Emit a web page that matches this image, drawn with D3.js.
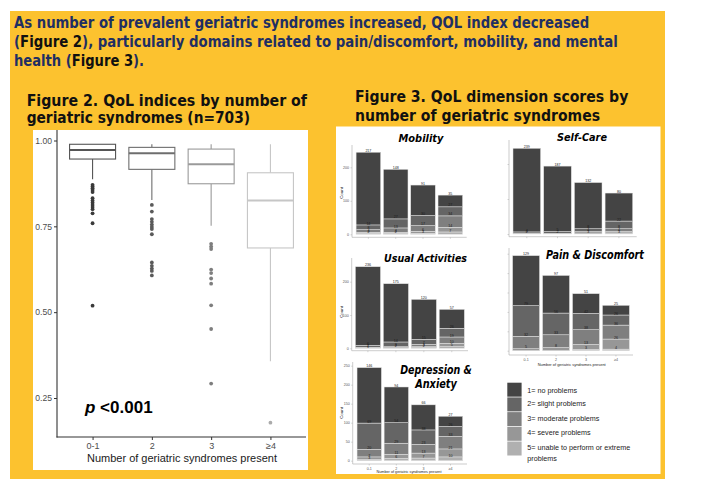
<!DOCTYPE html>
<html><head><meta charset="utf-8">
<script src="https://cdn.jsdelivr.net/npm/d3@7"></script>
<style>body{margin:0;background:#fff}svg{display:block}</style>
</head><body>
<svg id="c" width="712" height="492"></svg>
<script>
// ---------- DATA ----------
const headerLine1 = "As number of prevalent geriatric syndromes increased, QOL index decreased";
const headerLine2 = [["(", "n"], ["Figure 2", "b"], ("), particularly domains related to pain/discomfort, mobility, and mental"), ];
const headerLine3 = [["health (", "n"], ["Figure 3", "b"], [").", "n"]];
const fig2Title = ["Figure 2. QoL indices by number of", "geriatric syndromes (n=703)"];
const fig3Title = ["Figure 3. QoL dimension scores by", "number of geriatric syndromes"];

const boxCategories = ["0-1", "2", "3", "≥4"];
const boxLowerWhisker = [0.887, 0.827, 0.752, 0.357];
const boxQ1 = [0.946, 0.916, 0.874, 0.687];
const boxMedian = [0.972, 0.963, 0.931, 0.825];
const boxQ3 = [0.989, 0.980, 0.975, 0.906];
const boxUpperWhisker = [0.989, 0.989, 0.989, 0.989];
const outliers01 = [0.871, 0.866, 0.861, 0.856, 0.850, 0.832, 0.825, 0.819, 0.8125, 0.806, 0.800, 0.788, 0.759, 0.519];
const outliers2 = [0.8125, 0.793, 0.771, 0.763, 0.755, 0.748, 0.742, 0.727, 0.645, 0.635, 0.627, 0.620, 0.607];
const outliers3 = [0.699, 0.691, 0.684, 0.624, 0.614, 0.598, 0.583, 0.520, 0.451, 0.292];
const outliers4 = [0.178];
const fig2YTicks = [0.25, 0.50, 0.75, 1.00];
const fig2XTitle = "Number of geriatric syndromes present";

const barCategories = ["0-1", "2", "3", "≥4"];
const levelLabels = ["1= no problems", "2= slight problems", "3= moderate problems", "4= severe problems", "5= unable to perform or extreme", "problems"];
// counts per category: [level1, level2, level3, level4, level5]
const mobilityCounts   = [[217, 14, 8, 4, 2], [148, 27, 13, 4, 2], [91, 30, 17, 6, 3], [35, 27, 34, 14, 7]];
const selfCareCounts   = [[239, 4, 2, 0, 0], [187, 5, 2, 0, 0], [132, 8, 4, 3, 0], [80, 22, 8, 4, 3]];
const usualCounts      = [[236, 6, 2, 1, 0], [175, 14, 3, 2, 0], [120, 15, 7, 3, 2], [57, 26, 19, 10, 5]];
const painCounts       = [[129, 79, 32, 5, 0], [97, 56, 33, 8, 0], [51, 42, 38, 13, 3], [25, 26, 36, 26, 4]];
const depressionCounts = [[146, 69, 20, 7, 3], [94, 54, 29, 11, 6], [66, 38, 23, 13, 7], [27, 26, 33, 21, 10]];
const countTicks100 = [0, 100, 200];
const countTicks50 = [0, 50, 100, 150, 200, 250];

// ---------- STYLE ----------
const YELLOW = "#FCC22F";
const NAVY = "#1F2F63";
const levelColors = ["#444444", "#656565", "#7f7f7f", "#979797", "#b0b0b0"];
const boxColors = ["#555555", "#6e6e6e", "#9a9a9a", "#c6c6c6"];
const pointColors = ["#3a3a3a", "#5a5a5a", "#7e7e7e", "#ababab"];
const headFont = "Tahoma, 'DejaVu Sans Condensed', 'DejaVu Sans', sans-serif";
const plotFont = "'Liberation Sans', Arial, sans-serif";

const svg = d3.select("#c");
svg.append("rect").attr("width", 712).attr("height", 492).attr("fill", "#fff");
svg.append("rect").attr("x", 10).attr("y", 11).attr("width", 655).attr("height", 468).attr("fill", YELLOW);

function fitText(t, w) { t.attr("textLength", w).attr("lengthAdjust", "spacingAndGlyphs"); return t; }

// ---------- HEADER ----------
function headerText(parts, y, w) {
  const t = svg.append("text").attr("x", 14).attr("y", y).attr("font-family", headFont)
    .attr("font-weight", "bold").attr("font-size", 16).attr("fill", NAVY);
  parts.forEach(p => {
    const s = Array.isArray(p) ? p : [p, "n"];
    t.append("tspan").text(s[0]).attr("fill", s[1] === "b" ? "#111" : NAVY);
  });
  fitText(t, w);
}
headerText([headerLine1], 28.3, 575.3);
headerText(headerLine2, 47.3, 603.7);
headerText(headerLine3, 66, 130);

function titleLines(lines, x, ys, ws, size) {
  lines.forEach((l, i) => {
    fitText(svg.append("text").attr("x", x).attr("y", ys[i]).attr("font-family", headFont)
      .attr("font-weight", "bold").attr("font-size", size).attr("fill", "#111").text(l), ws[i]);
  });
}
titleLines(fig2Title, 26.7, [105.5, 122.5], [280.3, 223.3], 16);
titleLines(fig3Title, 355, [101.5, 121], [273.3, 245], 16);

// ---------- FIGURE 2: BOXPLOT ----------
svg.append("rect").attr("x", 33).attr("y", 130).attr("width", 275).attr("height", 340).attr("fill", "#fff");
const g2 = svg.append("g");
const yB = d3.scaleLinear().domain([0.25, 1.0]).range([398, 140.5]);
const xB = d3.scalePoint().domain(boxCategories).range([57, 306]).padding(0.6);
const halfW = 23;

g2.append("g").attr("transform", "translate(57,0)")
  .call(d3.axisLeft(yB).tickValues(fig2YTicks).tickFormat(d3.format(".2f")).tickSize(3).tickPadding(2))
  .call(a => a.select(".domain").remove())
  .call(a => a.selectAll("line").attr("stroke", "#333"))
  .call(a => a.selectAll("text").attr("font-family", plotFont).attr("font-size", 8.6).attr("fill", "#4d4d4d"));
g2.append("g").attr("transform", "translate(0,437)")
  .call(d3.axisBottom(xB).tickSize(3).tickPadding(3))
  .call(a => a.select(".domain").remove())
  .call(a => a.selectAll("line").attr("stroke", "#333"))
  .call(a => a.selectAll("text").attr("font-family", plotFont).attr("font-size", 9).attr("fill", "#4d4d4d"));
g2.append("line").attr("x1", 57).attr("x2", 57).attr("y1", 130).attr("y2", 437.5).attr("stroke", "#333").attr("stroke-width", 1.1);
g2.append("line").attr("x1", 56.5).attr("x2", 306).attr("y1", 437).attr("y2", 437).attr("stroke", "#333").attr("stroke-width", 1.1);

const allOutliers = [outliers01, outliers2, outliers3, outliers4];
boxCategories.forEach((c, i) => {
  const cx = xB(c), col = boxColors[i];
  g2.append("line").attr("x1", cx).attr("x2", cx).attr("y1", yB(boxUpperWhisker[i])).attr("y2", yB(boxQ3[i])).attr("stroke", col).attr("stroke-width", 1.1);
  g2.append("line").attr("x1", cx).attr("x2", cx).attr("y1", yB(boxQ1[i])).attr("y2", yB(boxLowerWhisker[i])).attr("stroke", col).attr("stroke-width", 1.1);
  g2.append("rect").attr("x", cx - halfW).attr("y", yB(boxQ3[i])).attr("width", 2 * halfW)
    .attr("height", yB(boxQ1[i]) - yB(boxQ3[i])).attr("fill", "#fff").attr("stroke", col).attr("stroke-width", 1.1);
  g2.append("line").attr("x1", cx - halfW).attr("x2", cx + halfW).attr("y1", yB(boxMedian[i])).attr("y2", yB(boxMedian[i]))
    .attr("stroke", col).attr("stroke-width", 2);
  g2.selectAll(null).data(allOutliers[i]).enter().append("circle")
    .attr("cx", cx).attr("cy", d => yB(d)).attr("r", 1.9).attr("fill", pointColors[i]);
});
const pt = g2.append("text").attr("x", 85).attr("y", 413.3).attr("font-family", plotFont).attr("font-weight", "bold").attr("font-size", 17).attr("fill", "#000");
pt.append("tspan").attr("font-style", "italic").text("p");
pt.append("tspan").text(" <0.001");
fitText(g2.append("text").attr("x", 182).attr("y", 462).attr("text-anchor", "middle").attr("font-family", plotFont)
  .attr("font-size", 10.6).attr("fill", "#1a1a1a").text(fig2XTitle), 190);

// ---------- FIGURE 3: STACKED BARS ----------
svg.append("rect").attr("x", 336).attr("y", 126.5).attr("width", 324.5).attr("height", 347.5).attr("fill", "#fff");
const g3 = svg.append("g");

function stackedChart(counts, cfg) {
  const g = g3.append("g");
  const x = d3.scaleBand().domain(barCategories).range([cfg.x0, cfg.x1]).paddingInner(0.1).paddingOuter(cfg.outer);
  const y = d3.scaleLinear().domain([0, 250]).range([cfg.zeroY, cfg.zeroY - 250 * cfg.k]);
  // level 5 at the bottom, level 1 ("no problems") on top
  const series = d3.stack().keys([4, 3, 2, 1, 0])(counts);
  // axes
  g.append("g").attr("transform", `translate(${cfg.x0},0)`)
    .call(d3.axisLeft(y).tickValues(cfg.ticks).tickSize(1.5).tickPadding(1.5).tickFormat(cfg.tickLabels ? d3.format("d") : ""))
    .call(a => a.select(".domain").remove())
    .call(a => a.selectAll("line").attr("stroke", "#aaa").attr("stroke-width", 0.5))
    .call(a => a.selectAll("text").attr("font-family", plotFont).attr("font-size", 3.6).attr("fill", "#555"));
  g.append("g").attr("transform", `translate(0,${cfg.axisY})`)
    .call(d3.axisBottom(x).tickSize(1.5).tickPadding(1.5).tickFormat(cfg.xLabels ? (d => d) : ""))
    .call(a => a.select(".domain").remove())
    .call(a => a.selectAll("line").attr("stroke", "#aaa").attr("stroke-width", 0.5))
    .call(a => a.selectAll("text").attr("font-family", plotFont).attr("font-size", 3.6).attr("fill", "#555"));
  g.append("line").attr("x1", cfg.x0).attr("x2", cfg.x0).attr("y1", cfg.axisTop).attr("y2", cfg.axisY).attr("stroke", "#aaa").attr("stroke-width", 0.6);
  g.append("line").attr("x1", cfg.x0).attr("x2", cfg.x1).attr("y1", cfg.axisY).attr("y2", cfg.axisY).attr("stroke", "#aaa").attr("stroke-width", 0.6);
  // bars
  series.forEach(s => {
    g.selectAll(null).data(s).enter().append("rect")
      .attr("x", (d, j) => x(barCategories[j])).attr("width", x.bandwidth())
      .attr("y", d => y(d[1])).attr("height", d => y(d[0]) - y(d[1]))
      .attr("fill", levelColors[s.key]).attr("stroke", "#e6e6e6").attr("stroke-width", 0.5);
  });
  series.forEach(s => {
    g.selectAll(null).data(s.filter(d => d[1] - d[0] > 0)).enter().append("text")
      .attr("x", d => x(barCategories[counts.indexOf(d.data)]) + x.bandwidth() / 2)
      .attr("y", d => y(d[1]) - 0.4).attr("text-anchor", "middle")
      .attr("font-family", plotFont).attr("font-size", 3.6).attr("fill", "#1a1a1a")
      .text(d => d[1] - d[0]);
  });
  if (cfg.yTitle) {
    g.append("text").attr("transform", `translate(${cfg.yTitle[0]},${cfg.yTitle[1]}) rotate(-90)`)
      .attr("text-anchor", "middle").attr("font-family", plotFont).attr("font-size", 4.4).attr("fill", "#222").text("Count");
  }
  if (cfg.xTitle) {
    fitText(g.append("text").attr("x", cfg.xTitle[0]).attr("y", cfg.xTitle[1]).attr("text-anchor", "middle")
      .attr("font-family", plotFont).attr("font-size", 4.4).attr("fill", "#222").text(fig2XTitle), cfg.xTitle[2]);
  }
  cfg.title.forEach(t => {
    fitText(g.append("text").attr("x", t[1]).attr("y", t[2]).attr("text-anchor", "middle")
      .attr("font-family", headFont).attr("font-weight", "bold").attr("font-style", "italic")
      .attr("font-size", t[3]).attr("fill", "#000").text(t[0]), t[4]);
  });
}

stackedChart(mobilityCounts, { x0: 352, x1: 466.7, outer: 0.15, zeroY: 234.3, k: 0.335, axisTop: 145, axisY: 237.3,
  ticks: countTicks100, tickLabels: true, yTitle: [343, 193], title: [["Mobility", 421, 141.7, 10.5, 45]] });
stackedChart(selfCareCounts, { x0: 509, x1: 636.7, outer: 0.13, zeroY: 234, k: 0.35, axisTop: 140, axisY: 236.7,
  ticks: countTicks100, tickLabels: false, title: [["Self-Care", 582, 140.5, 10, 50]] });
stackedChart(usualCounts, { x0: 351.7, x1: 468, outer: 0.13, zeroY: 348.3, k: 0.333, axisTop: 258, axisY: 350.7,
  ticks: countTicks100, tickLabels: true, yTitle: [343, 312], title: [["Usual Activities", 425.5, 262, 10.5, 83]] });
stackedChart(painCounts, { x0: 509, x1: 633, outer: 0.12, zeroY: 350.7, k: 0.388, axisTop: 248, axisY: 355,
  ticks: countTicks50, tickLabels: false, xLabels: true, xTitle: [571.7, 365.5, 68],
  title: [["Pain & Discomfort", 595, 259, 12.5, 98]] });
stackedChart(depressionCounts, { x0: 352.7, x1: 467, outer: 0.16, zeroY: 460.7, k: 0.38, axisTop: 362, axisY: 464,
  ticks: countTicks50, tickLabels: true, xLabels: true, yTitle: [343, 413], xTitle: [409, 473.3, 65],
  title: [["Depression &", 436, 374, 12.5, 71.7], ["Anxiety", 436, 387.5, 12.5, 41.7]] });

// ---------- LEGEND ----------
const lg = g3.append("g");
const legY = d3.scaleBand().domain(d3.range(5)).range([382.7, 455.5]).paddingInner(0.05);
lg.selectAll(null).data(levelColors).enter().append("rect")
  .attr("x", 507.3).attr("y", (d, i) => legY(i)).attr("width", 14.3).attr("height", legY.bandwidth()).attr("fill", d => d);
const legBase = [393.3, 406.3, 420.8, 435, 449.6, 460.6];
lg.selectAll(null).data(levelLabels).enter().append("text")
  .attr("x", 527.3).attr("y", (d, i) => legBase[i]).attr("font-family", plotFont).attr("font-size", 7.2).attr("fill", "#222")
  .text(d => d);
</script>
</body></html>
